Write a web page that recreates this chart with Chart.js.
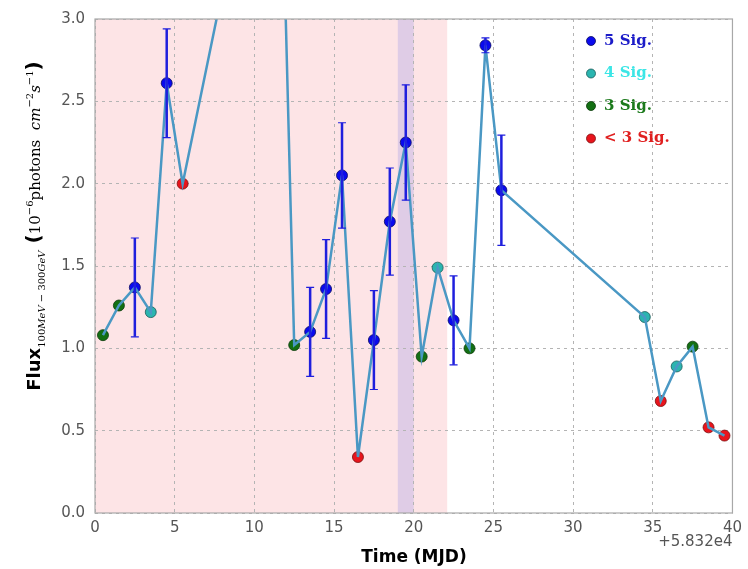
<!DOCTYPE html>
<html>
<head>
<meta charset="utf-8">
<script src="https://cdn.jsdelivr.net/npm/chart.js@4"></script>
<style>
  html, body { margin: 0; padding: 0; background: #fff; }
  #wrap { width: 748px; height: 569px; }
</style>
</head>
<body>
<div id="wrap"><canvas id="c" width="748" height="569"></canvas></div>
<script>
// light curve, days after MJD 58320
const days = [0.5, 1.5, 2.5, 3.5, 4.5, 5.5, 8.5, 9.5, 10.5, 11.5, 12.5, 13.5, 14.5, 15.5, 16.5,
  17.5, 18.5, 19.5, 20.5, 21.5, 22.5, 23.5, 24.5, 25.5, 34.5, 35.5, 36.5, 37.5, 38.5, 39.5];
const flux = [1.08, 1.26, 1.37, 1.22, 2.61, 2.00, 3.41, 4.20, 5.10, 4.76, 1.02, 1.10, 1.36, 2.05, 0.34,
  1.05, 1.77, 2.25, 0.95, 1.49, 1.17, 1.00, 2.84, 1.96, 1.19, 0.68, 0.89, 1.01, 0.52, 0.47];
const fluxErr = [null, null, 0.30, null, 0.33, null, null, null, null, null, null, 0.27, 0.30, 0.32, null,
  0.30, 0.325, 0.35, null, null, 0.27, null, 0.045, 0.335, null, null, null, null, null, null];
// significance class: 5, 4, 3 or 2 (= below 3 sigma)
const sig = [3, 3, 5, 4, 5, 2, 5, 5, 5, 5, 3, 5, 5, 5, 2, 5, 5, 5, 3, 4, 5, 3, 5, 5, 4, 2, 4, 3, 2, 2];

const sigLabels = ['5 Sig.', '4 Sig.', '3 Sig.', '< 3 Sig.'];
const sigKeys = [5, 4, 3, 2];
const markerFill = { 5: '#0a0aee', 4: '#2bb5b0', 3: '#136f13', 2: '#e8141c' };
const markerEdge = { 5: '#0a0a60', 4: '#1a5a58', 3: '#0a3a0a', 2: '#7a1010' };
const legendText = { 5: '#1c1cc8', 4: '#3ce6e6', 3: '#1c7a1c', 2: '#e02020' };

// shaded time ranges
const pinkSpan = [0, 22.1];
const purpleSpan = [19, 20];
const offsetText = '+5.832e4';

const pts = days.map((d, i) => ({ x: d, y: flux[i] }));

const bgPlugin = {
  id: 'bg',
  beforeDraw(chart) {
    const { ctx, chartArea: a, scales: { x } } = chart;
    ctx.save();
    ctx.fillStyle = '#fde4e6';
    ctx.fillRect(x.getPixelForValue(pinkSpan[0]), a.top, x.getPixelForValue(pinkSpan[1]) - x.getPixelForValue(pinkSpan[0]), a.bottom - a.top);
    ctx.fillStyle = '#dfcce6';
    ctx.fillRect(x.getPixelForValue(purpleSpan[0]), a.top, x.getPixelForValue(purpleSpan[1]) - x.getPixelForValue(purpleSpan[0]), a.bottom - a.top);
    ctx.restore();
  },
  afterDatasetDraw(chart, args) {
    if (args.index !== 0) return;
    const { ctx, chartArea: a, scales: { x, y } } = chart;
    ctx.save();
    ctx.beginPath();
    ctx.rect(a.left, a.top, a.right - a.left, a.bottom - a.top);
    ctx.clip();
    ctx.strokeStyle = '#1f1fdd';
    days.forEach((d, i) => {
      if (fluxErr[i] == null) return;
      const px = x.getPixelForValue(d);
      const t = y.getPixelForValue(flux[i] + fluxErr[i]);
      const b = y.getPixelForValue(flux[i] - fluxErr[i]);
      ctx.lineWidth = 2.5;
      ctx.beginPath();
      ctx.moveTo(px, t); ctx.lineTo(px, b);
      ctx.stroke();
      ctx.lineWidth = 1.2;
      ctx.beginPath();
      ctx.moveTo(px - 4, t); ctx.lineTo(px + 4, t);
      ctx.moveTo(px - 4, b); ctx.lineTo(px + 4, b);
      ctx.stroke();
    });
    ctx.restore();
  },
  afterDraw(chart) {
    const { ctx, chartArea: a } = chart;
    ctx.save();
    // frame
    ctx.strokeStyle = '#a8a8a8';
    ctx.lineWidth = 1.2;
    ctx.strokeRect(a.left, a.top, a.right - a.left, a.bottom - a.top);

    // legend
    sigKeys.forEach((k, i) => {
      const yy = 41 + i * 32.5;
      ctx.beginPath();
      ctx.arc(591, yy, 4.5, 0, Math.PI * 2);
      ctx.fillStyle = markerFill[k];
      ctx.fill();
      ctx.strokeStyle = markerEdge[k];
      ctx.lineWidth = 0.8;
      ctx.stroke();
      ctx.fillStyle = legendText[k];
      ctx.font = 'bold 15px "DejaVu Serif"';
      ctx.textBaseline = 'middle';
      ctx.textAlign = 'left';
      ctx.fillText(sigLabels[i], 604, yy);
    });

    // x title and offset
    ctx.fillStyle = '#000';
    ctx.font = 'bold 17px "DejaVu Sans"';
    ctx.textAlign = 'center';
    ctx.textBaseline = 'alphabetic';
    ctx.fillText('Time (MJD)', 414, 562);
    ctx.fillStyle = '#555';
    ctx.font = '15px "DejaVu Sans"';
    ctx.textAlign = 'right';
    ctx.fillText(offsetText, a.right, 546);

    // y title, rotated
    const parts = [
      { t: 'Flux', f: 'bold 18px "DejaVu Sans"', dy: 0 },
      { t: '100', f: '10px "DejaVu Serif"', dy: 5 },
      { t: 'MeV', f: 'italic 10px "DejaVu Serif"', dy: 5 },
      { t: ' \u2212 300', f: '10px "DejaVu Serif"', dy: 5 },
      { t: 'GeV', f: 'italic 10px "DejaVu Serif"', dy: 5 },
      { t: ' (', f: 'bold 20px "DejaVu Sans"', dy: 0 },
      { t: '10', f: '15px "DejaVu Serif"', dy: 0 },
      { t: '\u22126', f: '10px "DejaVu Serif"', dy: -7 },
      { t: 'photons  ', f: '15px "DejaVu Serif"', dy: 0 },
      { t: 'cm', f: 'italic 15px "DejaVu Serif"', dy: 0 },
      { t: '\u22122', f: '10px "DejaVu Serif"', dy: -7 },
      { t: 's', f: 'italic 15px "DejaVu Serif"', dy: 0 },
      { t: '\u22121', f: '10px "DejaVu Serif"', dy: -7 },
      { t: ')', f: 'bold 20px "DejaVu Sans"', dy: 0 }
    ];
    let total = 0;
    parts.forEach(p => { ctx.font = p.f; p.w = ctx.measureText(p.t).width; total += p.w; });
    ctx.translate(40, 226);
    ctx.rotate(-Math.PI / 2);
    ctx.fillStyle = '#000';
    ctx.textAlign = 'left';
    let cx = -total / 2;
    parts.forEach(p => {
      ctx.font = p.f;
      ctx.fillText(p.t, cx, p.dy);
      cx += p.w;
    });
    ctx.restore();
  }
};

new Chart(document.getElementById('c'), {
  type: 'scatter',
  data: {
    datasets: [
      {
        type: 'line',
        data: pts,
        borderColor: '#4a98c4',
        borderWidth: 2.5,
        pointRadius: 0,
        tension: 0,
        fill: false
      },
      {
        data: pts,
        pointRadius: 5.5,
        pointBackgroundColor: sig.map(s => markerFill[s]),
        pointBorderColor: sig.map(s => markerEdge[s]),
        pointBorderWidth: 0.8
      }
    ]
  },
  options: {
    responsive: false,
    animation: false,
    layout: { padding: { top: 16, right: 14, left: 0, bottom: 0 } },
    plugins: { legend: { display: false }, tooltip: { enabled: false } },
    scales: {
      x: {
        type: 'linear', min: 0, max: 40,
        afterFit: s => { s.height = 56; },
        ticks: { stepSize: 5, color: '#555', font: { family: 'DejaVu Sans', size: 15 }, padding: 6, maxRotation: 0 },
        grid: { color: '#b4b4b4', lineWidth: 1, drawTicks: false },
        border: { display: false, dash: [3, 4] }
      },
      y: {
        min: 0, max: 3,
        afterFit: s => { s.width = 95; },
        ticks: { stepSize: 0.5, color: '#555', font: { family: 'DejaVu Sans', size: 15 }, padding: 10, callback: v => v.toFixed(1) },
        grid: { color: '#b4b4b4', lineWidth: 1, drawTicks: false },
        border: { display: false, dash: [3, 4] }
      }
    }
  },
  plugins: [bgPlugin]
});
</script>
</body>
</html>
